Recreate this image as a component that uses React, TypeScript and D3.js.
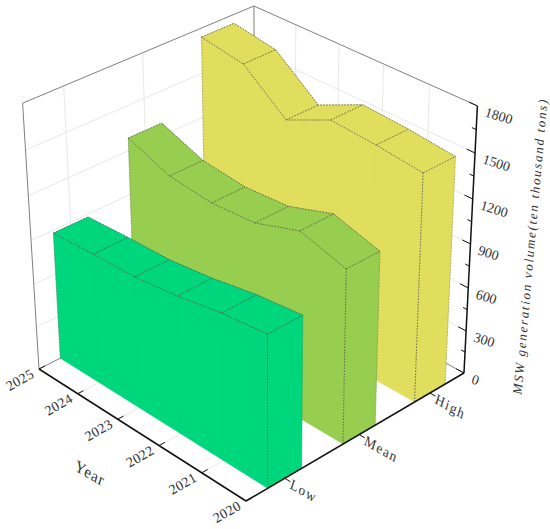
import React from "react";
import * as d3 from "d3";

const years = [2020, 2021, 2022, 2023, 2024, 2025];
const categories = ["Low", "Mean", "High"];
const lowValues = [1027, 994, 939, 902, 895, 881];
const meanValues = [1177, 1264, 1162, 1142, 1174, 1285];
const highValues = [1542, 1576, 1596, 1458, 1692, 1741];
const zMajor = [0, 300, 600, 900, 1200, 1500, 1800];
const zMinor = [150, 450, 750, 1050, 1350, 1650];
const wallColors = ["#00D67C", "#98CE50", "#E0DE5C"];
const wallValues = [lowValues, meanValues, highValues];

const W = 550, H = 529;
const xS = d3.scaleLinear().domain([2020, 2025]).range([0, 1]);
const yS = d3.scalePoint<string>().domain(categories).range([0, 1]).padding(0.5);
const zS = d3.scaleLinear().domain([0, 1800]).range([0, 1]);
const halfBand = 0.074;

// projective camera fitted to the plot box
const org = [246, 501, 1], vx = [-203.65, -100.27, 0.086], vy = [255.1, -98.16, 0.08], vz = [-19.4, -296, -0.071];
type P = [number, number];
function pr(x: number, y: number, z: number): P {
  const h = [0, 1, 2].map((i) => org[i] + x * vx[i] + y * vy[i] + z * vz[i]);
  return [h[0] / h[2], h[1] / h[2]];
}
const line = d3.line<P>().x((d) => d[0]).y((d) => d[1]);
const poly = (pts: P[]) => line(pts)! + "Z";

const GRID = "#e8e8e8", BOX = "#7f7f7f", INK = "#111", DASH = "#4a4a4a";
const FONT = "'Liberation Serif', serif";

function Seg({ a, b, c = INK, w = 1 }: { a: P; b: P; c?: string; w?: number }) {
  return <path d={line([a, b])!} stroke={c} strokeWidth={w} fill="none" />;
}

function Wall({ idx }: { idx: number }) {
  const vals = wallValues[idx];
  const yc = yS(categories[idx])!;
  const y0 = yc - halfBand, y1 = yc + halfBand;
  const fill = wallColors[idx];
  const front = years.map((yr, i) => pr(xS(yr), y0, zS(vals[i])));
  const back = years.map((yr, i) => pr(xS(yr), y1, zS(vals[i])));
  const dashP = { stroke: DASH, strokeWidth: 0.7, strokeDasharray: "1.8 1.2", fill: "none" };
  const last = years.length - 1;
  return (
    <g>
      <g fill={fill} stroke={fill} strokeWidth={0.4} strokeLinejoin="round">
        <path d={poly([pr(0, y0, 0), pr(1, y0, 0), ...front.slice().reverse()])} />
        <path d={poly([...front, ...back.slice().reverse()])} />
        <path d={poly([pr(0, y0, 0), pr(0, y1, 0), back[0], front[0]])} />
      </g>
      {years.slice(1, -1).map((yr, i) => (
        <path key={yr} d={line([pr(xS(yr), y0, 0), front[i + 1]])!} stroke="#000" strokeOpacity={0.015} strokeWidth={0.8} fill="none" />
      ))}
      <path d={line(front)!} {...dashP} />
      <path d={line(back)!} {...dashP} />
      {years.map((yr, i) => (
        <path key={yr} d={line([front[i], back[i]])!} {...dashP} />
      ))}
      <path d={line([pr(0, y0, 0), front[0]])!} {...dashP} />
      <path d={line([pr(0, y1, 0), back[0]])!} {...dashP} strokeOpacity={0.5} />
      <path d={line([pr(1, y0, 0), front[last]])!} {...dashP} strokeOpacity={0.6} />
    </g>
  );
}

export default function App() {
  const yrMid = years.slice(1, -1);
  return (
    <svg width={W} height={H} viewBox={`0 0 ${W} ${H}`} style={{ position: "absolute", left: 0, top: 0, background: "#fff" }} fontFamily={FONT}>
      {/* grids on the back walls and floor */}
      <g>
        {zMajor.slice(1, -1).map((v) => (
          <g key={v}>
            <Seg a={pr(1, 0, zS(v))} b={pr(1, 1, zS(v))} c={GRID} />
            <Seg a={pr(1, 1, zS(v))} b={pr(0, 1, zS(v))} c={GRID} />
          </g>
        ))}
        {categories.map((c) => (
          <g key={c}>
            <Seg a={pr(1, yS(c)!, 0)} b={pr(1, yS(c)!, 1)} c={GRID} />
            <Seg a={pr(1, yS(c)!, 0)} b={pr(0, yS(c)!, 0)} c={GRID} />
          </g>
        ))}
        {yrMid.map((yr) => (
          <g key={yr}>
            <Seg a={pr(xS(yr), 1, 0)} b={pr(xS(yr), 1, 1)} c={GRID} />
            <Seg a={pr(xS(yr), 0, 0)} b={pr(xS(yr), 1, 0)} c={GRID} />
          </g>
        ))}
      </g>
      {/* back box */}
      <g>
        <Seg a={pr(1, 0, 0)} b={pr(1, 0, 1)} c={BOX} />
        <Seg a={pr(1, 0, 1)} b={pr(1, 1, 1)} c={BOX} />
        <Seg a={pr(1, 1, 1)} b={pr(0, 1, 1)} c={BOX} />
        <Seg a={pr(1, 1, 1)} b={pr(1, 1, 0)} c={BOX} />
        <Seg a={pr(1, 0, 0)} b={pr(1, 1, 0)} c={BOX} />
        <Seg a={pr(1, 1, 0)} b={pr(0, 1, 0)} c={BOX} />
      </g>
      {[2, 1, 0].map((i) => (
        <Wall key={i} idx={i} />
      ))}
      {/* axes */}
      <g>
        <Seg a={pr(0, 0, 0)} b={pr(1, 0, 0)} w={1.5} />
        <Seg a={pr(0, 0, 0)} b={pr(0, 1, 0)} w={1.5} />
        <Seg a={pr(0, 1, 0)} b={pr(0, 1, 1)} w={1.5} />
        {years.map((yr) => (
          <Seg key={yr} a={pr(xS(yr), 0, 0)} b={pr(xS(yr), 0.025, 0)} w={1} />
        ))}
        {categories.map((c) => (
          <Seg key={c} a={pr(0, yS(c)!, 0)} b={pr(-0.025, yS(c)!, 0)} w={1} />
        ))}
        {zMajor.map((v) => (
          <Seg key={v} a={pr(0, 1, zS(v))} b={pr(0.035, 1, zS(v))} w={1} />
        ))}
        {zMinor.map((v) => (
          <Seg key={v} a={pr(0, 1, zS(v))} b={pr(0.018, 1, zS(v))} w={1} />
        ))}
      </g>
      {/* labels */}
      <g fill="#333" fontSize={14}>
        {years.map((yr) => {
          const [px, py] = pr(xS(yr), 0, 0);
          return (
            <text key={yr} transform={`translate(${px - 19},${py + 11}) rotate(-30)`} textAnchor="middle" dominantBaseline="central" letterSpacing={0.4}>
              {yr}
            </text>
          );
        })}
        {categories.map((c) => {
          const [px, py] = pr(0, yS(c)!, 0);
          return (
            <text key={c} transform={`translate(${px + 6},${py + 5}) rotate(30) skewX(12)`} dominantBaseline="central" letterSpacing={1.4}>
              {c}
            </text>
          );
        })}
        {zMajor.map((v) => {
          const [px, py] = pr(0, 1, zS(v));
          return (
            <text key={v} transform={`translate(${px + 8},${py + 6}) rotate(17)`} dominantBaseline="central">
              {v}
            </text>
          );
        })}
        <text transform="translate(90,473) rotate(30) skewX(12)" textAnchor="middle" dominantBaseline="central" fontSize={16} letterSpacing={1}>
          Year
        </text>
        <text transform="translate(530,247) rotate(-85)" textAnchor="middle" dominantBaseline="central" fontSize={13} fontStyle="italic" textLength={296} lengthAdjust="spacing">
          MSW generation volume(ten thousand tons)
        </text>
      </g>
    </svg>
  );
}
